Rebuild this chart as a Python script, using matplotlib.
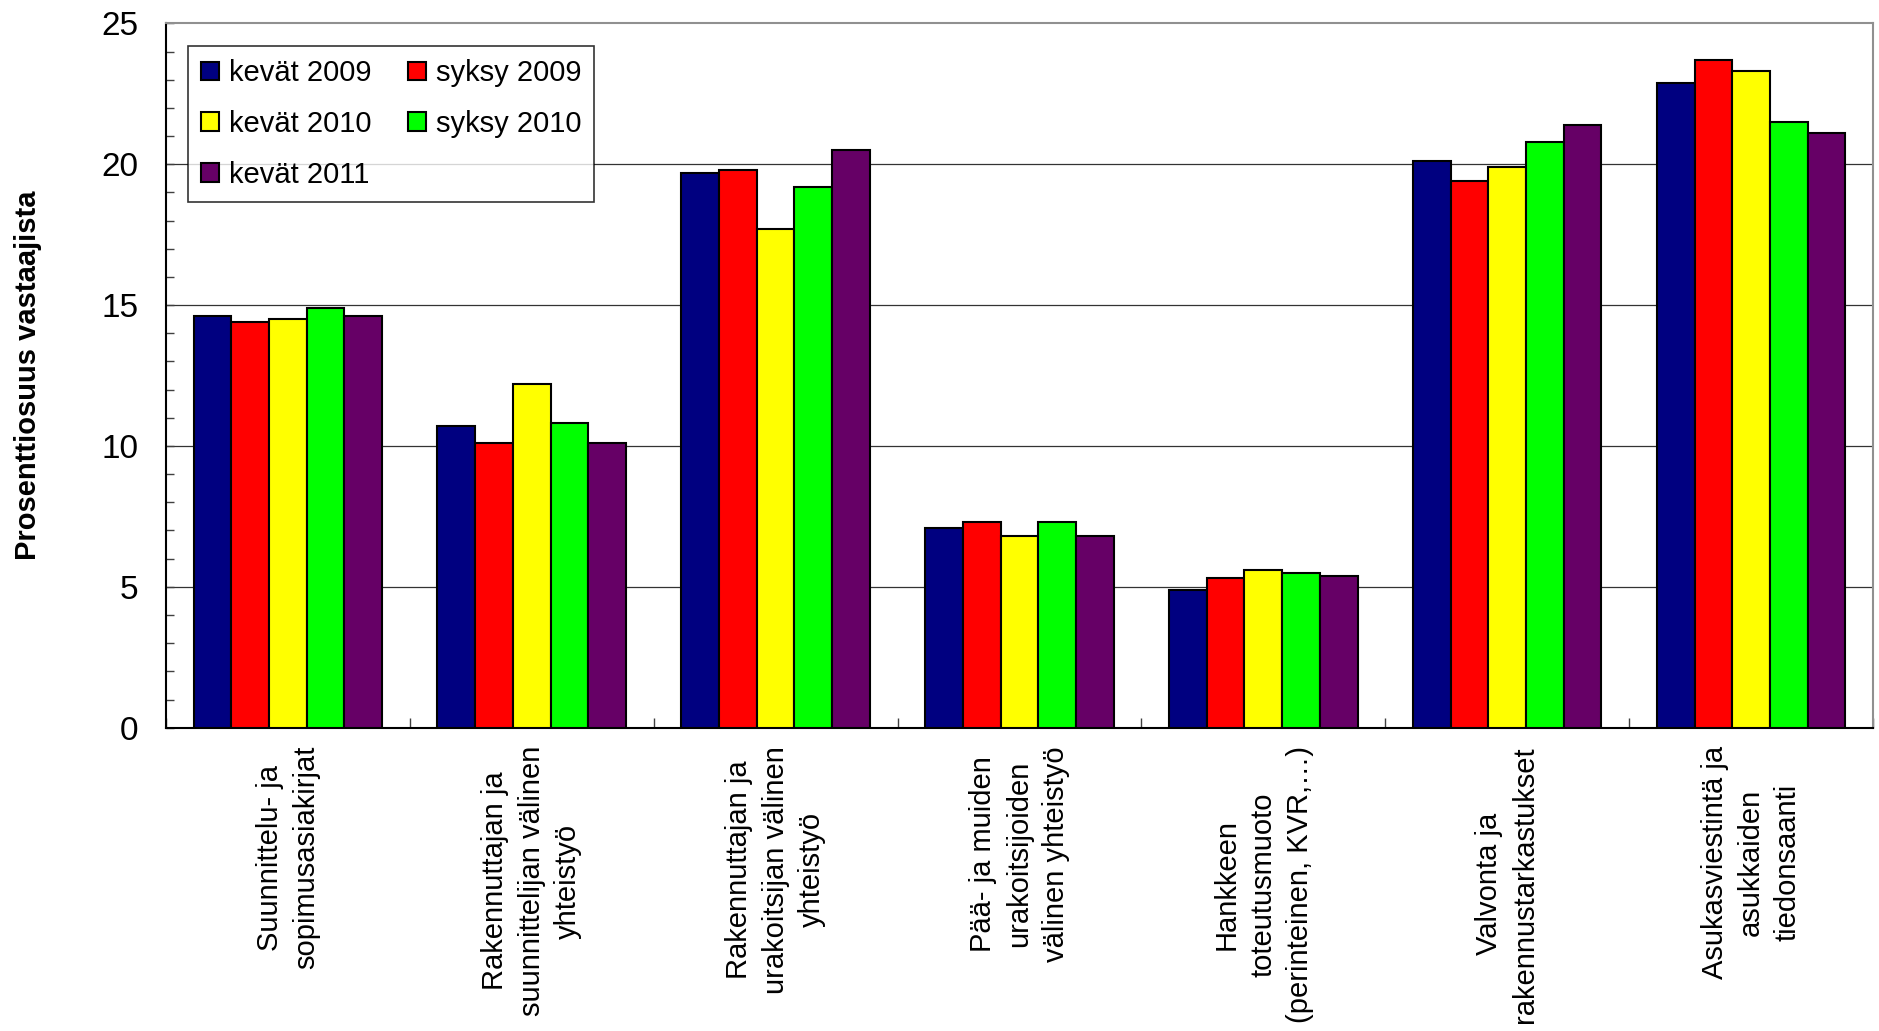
import numpy as np
import matplotlib.pyplot as plt
from matplotlib.patches import Patch
from matplotlib.ticker import MultipleLocator, FixedLocator

plt.rcParams['font.family'] = ['Liberation Sans', 'DejaVu Sans']

# data
categories = [
    "Suunnittelu- ja\nsopimusasiakirjat",
    "Rakennuttajan ja\nsuunnittelijan välinen\nyhteistyö",
    "Rakennuttajan ja\nurakoitsijan välinen\nyhteistyö",
    "Pää- ja muiden\nurakoitsijoiden\nvälinen yhteistyö",
    "Hankkeen\ntoteutusmuoto\n(perinteinen, KVR,…)",
    "Valvonta ja\nrakennustarkastukset",
    "Asukasviestintä ja\nasukkaiden\ntiedonsaanti",
]
series_names = ["kevät 2009", "syksy 2009", "kevät 2010", "syksy 2010", "kevät 2011"]
kevat_2009 = [14.6, 10.7, 19.7, 7.1, 4.9, 20.1, 22.9]
syksy_2009 = [14.4, 10.1, 19.8, 7.3, 5.3, 19.4, 23.7]
kevat_2010 = [14.5, 12.2, 17.7, 6.8, 5.6, 19.9, 23.3]
syksy_2010 = [14.9, 10.8, 19.2, 7.3, 5.5, 20.8, 21.5]
kevat_2011 = [14.6, 10.1, 20.5, 6.8, 5.4, 21.4, 21.1]
colors = ["#000080", "#FF0000", "#FFFF00", "#00FF00", "#660066"]

series = [kevat_2009, syksy_2009, kevat_2010, syksy_2010, kevat_2011]

fig = plt.figure(figsize=(18.79, 10.31), dpi=100)
ax = fig.add_axes([0.0883, 0.2942, 0.9085, 0.6831])

x = np.arange(len(categories))
w = 0.1546
for j, vals in enumerate(series):
    ax.bar(x + (j - 2) * w, vals, width=w, color=colors[j],
           edgecolor='black', linewidth=1.5, zorder=3, label=series_names[j])

ax.set_xlim(-0.5, len(categories) - 0.5)
ax.set_ylim(0, 25)

# grid lines
for g in [5, 10, 15, 20]:
    ax.axhline(g, color='#333333', linewidth=0.9, zorder=1)

ax.yaxis.set_major_locator(MultipleLocator(5))
ax.yaxis.set_minor_locator(MultipleLocator(1))
ax.tick_params(axis='y', which='both', direction='in', length=6, width=1,
               labelsize=24, pad=20, colors='#404040', labelcolor='black')

ax.xaxis.set_major_locator(FixedLocator(np.arange(-0.5, len(categories), 1.0)))
ax.xaxis.set_minor_locator(FixedLocator(x))
ax.tick_params(axis='x', which='both', direction='in', length=7, width=1,
               colors='#404040', labelbottom=False)

for i, lab in enumerate(categories):
    ax.text(i, -0.65, lab, rotation=90, ha='center', va='top',
            multialignment='center', fontsize=21, linespacing=1.38)

ax.set_ylabel("Prosenttiosuus vastaajista", fontsize=21, fontweight='bold')
ax.yaxis.set_label_coords(-0.0725, 0.5)

for s in ['left', 'bottom']:
    ax.spines[s].set_color('black')
    ax.spines[s].set_linewidth(1.5)
for s in ['top', 'right']:
    ax.spines[s].set_color('#909090')
    ax.spines[s].set_linewidth(1.5)

handles = [Patch(facecolor=colors[j], edgecolor='black', linewidth=1.5)
           for j in range(5)]
order = [0, 2, 4, 1, 3]
leg = ax.legend([handles[k] for k in order], [series_names[k] for k in order],
                ncol=2, loc='upper left', bbox_to_anchor=(0.0131, 0.968),
                fontsize=21, frameon=True, fancybox=False, shadow=False,
                handlelength=0.6, handleheight=0.6, handletextpad=0.35,
                columnspacing=1.25, labelspacing=0.78, borderpad=0.45,
                borderaxespad=0)
leg.get_frame().set_edgecolor('black')
leg.get_frame().set_linewidth(1.2)
leg.set_zorder(5)

fig.savefig("out.png", dpi=100)
